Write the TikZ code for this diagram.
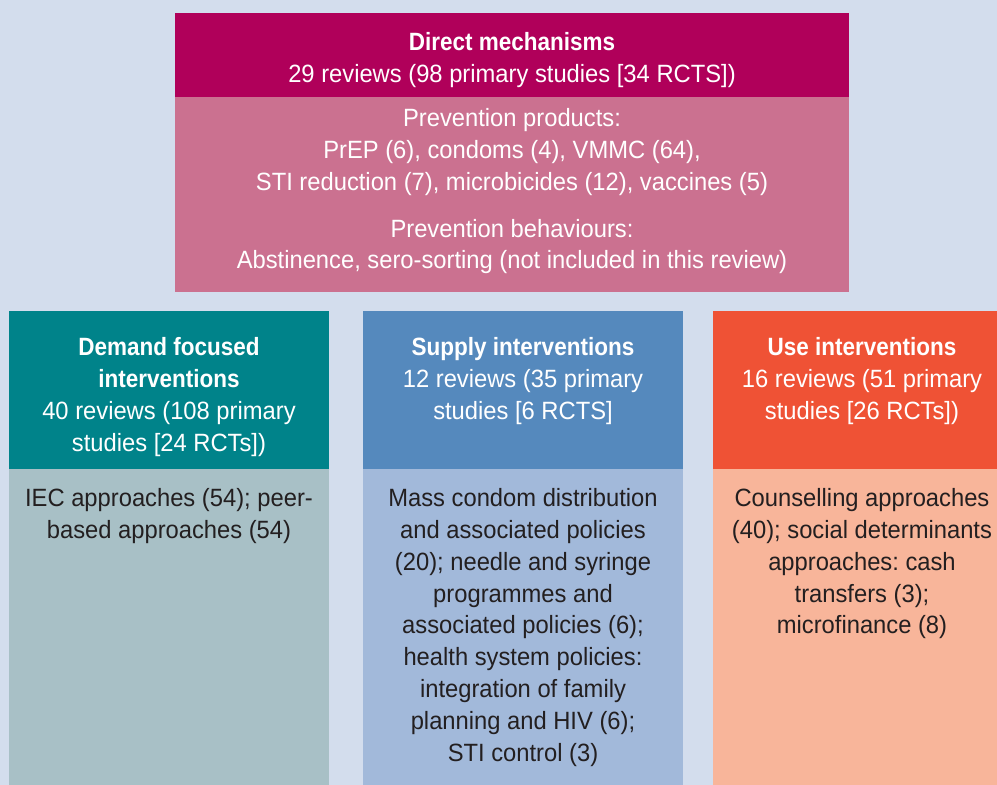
\documentclass[tikz,border=0pt]{standalone}
\usepackage{fontspec}
\setmainfont{Liberation Sans}[FakeStretch=0.95, BoldFeatures={FakeStretch=0.9}]
\usetikzlibrary{positioning}
\frenchspacing

\definecolor{pagebg}{HTML}{D3DDED}
\definecolor{mechdark}{HTML}{B0005A}
\definecolor{mechlight}{HTML}{CB7190}
\definecolor{demanddark}{HTML}{00838A}
\definecolor{demandlight}{HTML}{A8C0C6}
\definecolor{supplydark}{HTML}{5589BD}
\definecolor{supplylight}{HTML}{A2B9DA}
\definecolor{usedark}{HTML}{EF5235}
\definecolor{uselight}{HTML}{F8B59A}
\definecolor{bodyink}{HTML}{231F20}

\begin{document}
\begin{tikzpicture}
[x=1pt,y=-1pt,inner sep=0pt,outer sep=0pt,node distance=0pt,
 panel/.style={fill=#1,minimum width=320pt},
 txt/.style={anchor=north,align=center,text=white,
   font=\fontsize{25}{31.8}\selectfont,execute at begin node=\strut},
 darktxt/.style={txt,text=bodyink}]

\useasboundingbox[fill=pagebg] (0,0) rectangle (997,785);

% direct mechanisms across the top
\node[panel=mechdark, minimum width=674pt, minimum height=84pt, anchor=north west] (mech) at (175,13) {};
\node[panel=mechlight, minimum width=674pt, minimum height=195pt, below=of mech] (mechlist) {};

\node[txt] (mechtitle) at ([yshift=-19.5pt]mech.north)
  {\textbf{Direct mechanisms}\\29 reviews (98 primary studies [34 RCTS])};
\node[txt] (mechitems) at ([yshift=-11.5pt]mechlist.north)
  {Prevention products:\\PrEP (6), condoms (4), VMMC (64),\\STI reduction (7), microbicides (12), vaccines (5)\\[15pt]
   Prevention behaviours:\\Abstinence, sero-sorting (not included in this review)};

% the three columns
\node[panel=demanddark, minimum height=158pt, anchor=north west] (demand) at (9,311) {};
\node[panel=demandlight, minimum height=320pt, below=of demand] (demandlist) {};
\node[panel=supplydark, minimum height=158pt, right=34pt of demand] (supply) {};
\node[panel=supplylight, minimum height=320pt, below=of supply] (supplylist) {};
\node[panel=usedark, minimum width=298pt, minimum height=158pt, right=30pt of supply] (use) {};
\node[panel=uselight, minimum width=298pt, minimum height=320pt, below=of use] (uselist) {};

\node[txt] (demandtitle) at ([yshift=-26.5pt]demand.north)
  {\textbf{Demand focused}\\\textbf{interventions}\\40 reviews (108 primary\\studies [24 RCTs])};
\node[darktxt] (demanditems) at ([yshift=-19.5pt]demandlist.north)
  {IEC approaches (54); peer-\\based approaches (54)};

\node[txt] (supplytitle) at ([yshift=-26.5pt]supply.north)
  {\textbf{Supply interventions}\\12 reviews (35 primary\\studies [6 RCTS]};
\node[darktxt] (supplyitems) at ([yshift=-19.5pt]supplylist.north)
  {Mass condom distribution\\and associated policies\\(20); needle and syringe\\programmes and\\associated policies (6);\\
   health system policies:\\integration of family\\planning and HIV (6);\\STI control (3)};

\node[txt] (usetitle) at ([yshift=-26.5pt]use.north)
  {\textbf{Use interventions}\\16 reviews (51 primary\\studies [26 RCTs])};
\node[darktxt] (useitems) at ([yshift=-19.5pt]uselist.north)
  {Counselling approaches\\(40); social determinants\\approaches: cash\\transfers (3);\\microfinance (8)};
\end{tikzpicture}
\end{document}
